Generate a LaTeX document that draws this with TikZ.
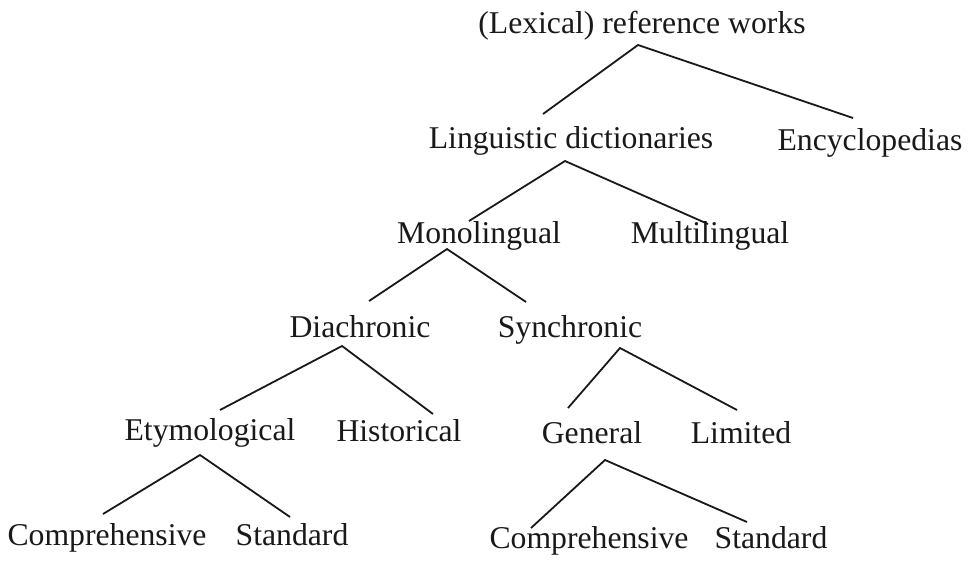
\documentclass[tikz,border=0pt]{standalone}
\usepackage{fontspec}
\setmainfont{Liberation Serif}
\usetikzlibrary{calc}
\begin{document}
\begin{tikzpicture}[x=1pt,y=-1pt,
  lbl/.style={inner sep=0pt,anchor=base,font=\fontsize{31.7}{36}\selectfont,text=black!90},
  edge/.style={line width=1.8pt,black!90}]
\useasboundingbox[fill=white] (0,0) rectangle (970,562);
\node[lbl] (root) at (642,33) {(Lexical) reference works};
\node[lbl] (ling) at (571,148) {Linguistic dictionaries};
\node[lbl] (ency) at (870,150) {Encyclopedias};
\node[lbl] (mono) at (479,243) {Monolingual};
\node[lbl] (multi) at (710,243) {Multilingual};
\node[lbl] (dia) at (360,337) {Diachronic};
\node[lbl] (syn) at (570,337) {Synchronic};
\node[lbl] (ety) at (210,440) {Etymological};
\node[lbl] (hist) at (399,441) {Historical};
\node[lbl] (gen) at (592,443) {General};
\node[lbl] (lim) at (741,443) {Limited};
\node[lbl] (compA) at (107,545) {Comprehensive};
\node[lbl] (stdA) at (292,545) {Standard};
\node[lbl] (compB) at (589,548) {Comprehensive};
\node[lbl] (stdB) at (771,548) {Standard};
% connectors
\draw[edge] ($(ling.base)+(-28,-34)$) -- ($(root.base)+(-4,12)$) -- ($(ency.base)+(-17,-32)$);
\draw[edge] ($(mono.base)+(-10,-22)$) -- ($(ling.base)+(-6,13)$) -- ($(multi.base)+(-2,-19)$);
\draw[edge] ($(dia.base)+(9,-36)$) -- ($(mono.base)+(-32,6)$) -- ($(syn.base)+(-44,-35)$);
\draw[edge] ($(ety.base)+(10,-30)$) -- ($(dia.base)+(-18,9)$) -- ($(hist.base)+(34,-27)$);
\draw[edge] ($(gen.base)+(-24,-35)$) -- ($(syn.base)+(50,11)$) -- ($(lim.base)+(-4,-33)$);
\draw[edge] ($(compA.base)+(-4,-31)$) -- ($(ety.base)+(-10,15)$) -- ($(stdA.base)+(-2,-28)$);
\draw[edge] ($(compB.base)+(-58,-20)$) -- ($(gen.base)+(13,17)$) -- ($(stdB.base)+(-24,-26)$);
\end{tikzpicture}
\end{document}
